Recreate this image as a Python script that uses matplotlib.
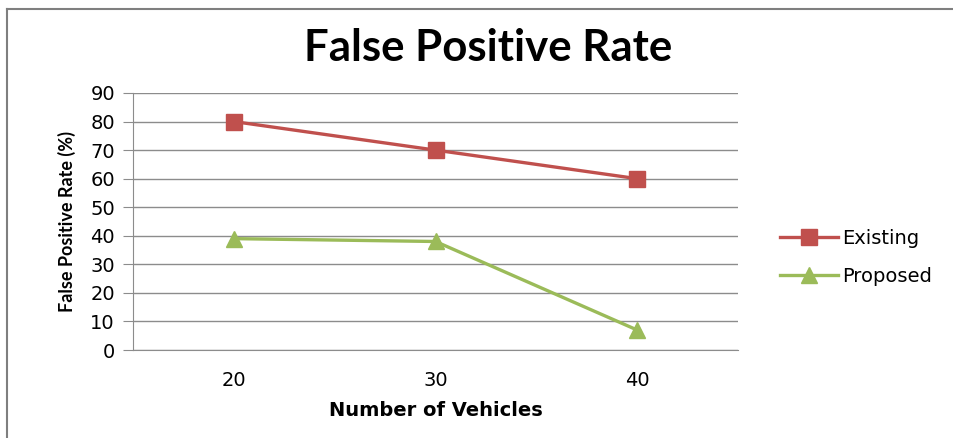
import matplotlib.pyplot as plt
from matplotlib.lines import Line2D

vehicles = ['20', '30', '40']
existing = [80, 70, 60]
proposed = [39, 38, 7]
y_ticks = [0, 10, 20, 30, 40, 50, 60, 70, 80, 90]

RED = '#C0504D'
GREEN = '#9BBB59'
GRID = '#8C8C8C'


def plot_fpr():
    fig = plt.figure(figsize=(9.54, 4.38), dpi=100)
    ax = fig.add_axes([133 / 954, 1 - 350 / 438, 605 / 954, 257 / 438])

    x = list(range(len(vehicles)))
    ax.plot(x, existing, color=RED, lw=2.4, marker='s', ms=11, label='Existing')
    ax.plot(x, proposed, color=GREEN, lw=2.4, marker='^', ms=12, label='Proposed')

    ax.set_xlim(-0.5, len(vehicles) - 0.5)
    ax.set_ylim(0, 90)
    ax.set_yticks(y_ticks)
    ax.set_xticks(x)
    ax.set_xticklabels(vehicles)
    ax.yaxis.grid(True, color=GRID, lw=1)
    ax.set_axisbelow(True)

    for side in ['top', 'right']:
        ax.spines[side].set_visible(False)
    ax.spines['left'].set_color(GRID)
    ax.spines['bottom'].set_color(GRID)
    ax.tick_params(axis='y', length=7, color=GRID, labelsize=14, pad=6)
    ax.tick_params(axis='x', length=0, labelsize=14, pad=15)

    ax.set_ylabel('False Positive Rate (%)', family='Lato', fontweight='bold',
                  fontsize=13, labelpad=10)
    ax.set_xlabel('Number of Vehicles', family='DejaVu Sans', fontweight='bold',
                  fontsize=14, labelpad=8)
    fig.text(488 / 954, 1 - 48 / 438, 'False Positive Rate', family='Lato',
             fontweight='bold', fontsize=31.5, ha='center', va='center')

    ax.legend(loc='center left', bbox_to_anchor=(1.04, 0.36), frameon=False,
              handlelength=3.0, labelspacing=1.0, handletextpad=0.2,
              prop={'family': 'DejaVu Sans', 'size': 14})

    # chart frame (top and left edges visible in the source)
    fig.add_artist(Line2D([7 / 954, 1], [1 - 9 / 438, 1 - 9 / 438],
                          transform=fig.transFigure, color='#7F7F7F', lw=1.5))
    fig.add_artist(Line2D([7 / 954, 7 / 954], [0, 1 - 9 / 438],
                          transform=fig.transFigure, color='#7F7F7F', lw=1.5))

    fig.savefig('out.png', dpi=100)


if __name__ == '__main__':
    plot_fpr()
